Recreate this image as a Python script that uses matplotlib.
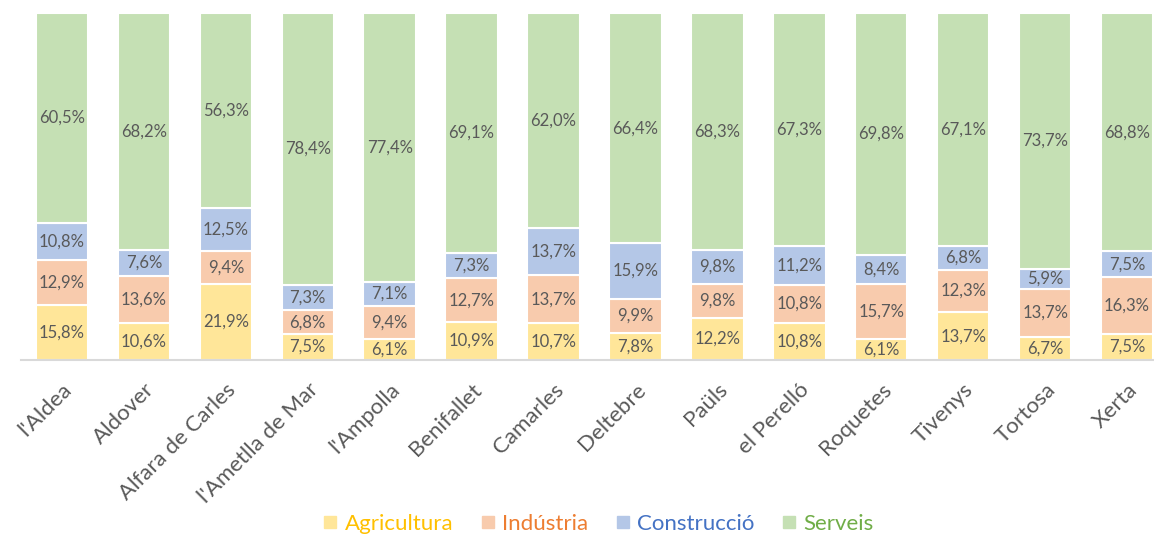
import numpy as np
import matplotlib.pyplot as plt
from matplotlib.lines import Line2D

towns = ["l'Aldea", "Aldover", "Alfara de Carles", "l'Ametlla de Mar", "l'Ampolla",
         "Benifallet", "Camarles", "Deltebre", "Paüls", "el Perelló", "Roquetes",
         "Tivenys", "Tortosa", "Xerta"]
agricultura = [15.8, 10.6, 21.9, 7.5, 6.1, 10.9, 10.7, 7.8, 12.2, 10.8, 6.1, 13.7, 6.7, 7.5]
industria = [12.9, 13.6, 9.4, 6.8, 9.4, 12.7, 13.7, 9.9, 9.8, 10.8, 15.7, 12.3, 13.7, 16.3]
construccio = [10.8, 7.6, 12.5, 7.3, 7.1, 7.3, 13.7, 15.9, 9.8, 11.2, 8.4, 6.8, 5.9, 7.5]
serveis = [60.5, 68.2, 56.3, 78.4, 77.4, 69.1, 62.0, 66.4, 68.3, 67.3, 69.8, 67.1, 73.7, 68.8]

series = [("Agricultura", agricultura, "#FFE699", "#FFC000"),
          ("Indústria", industria, "#F8CBAD", "#ED7D31"),
          ("Construcció", construccio, "#B4C7E7", "#4472C4"),
          ("Serveis", serveis, "#C5E0B4", "#70AD47")]

plt.rcParams['font.family'] = ['Lato', 'DejaVu Sans']

fig = plt.figure(figsize=(11.54, 5.39), dpi=100)
ax = fig.add_axes([21 / 1154, 179 / 539, 1147 / 1154, 347 / 539])

x = np.arange(len(towns))
totals = np.sum([agricultura, industria, construccio, serveis], axis=0)
bottom = np.zeros(len(towns))
for name, vals, col, _ in series:
    v = np.array(vals) / totals * 100
    ax.bar(x, v, 0.64, bottom=bottom, color=col, edgecolor='white', linewidth=1.5)
    for xi, b, h, raw in zip(x, bottom, v, vals):
        ax.text(xi, b + h / 2, f"{raw:.1f}%".replace('.', ','), ha='center', va='center',
                fontsize=12, color='#595959')
    bottom += v

ax.set_xlim(-0.5, len(towns) - 0.5)
ax.set_ylim(0, 100)
ax.set_yticks([])
ax.set_xticks(x)
ax.set_xticklabels(towns, rotation=45, ha='right', rotation_mode='anchor',
                   fontsize=16, color='#595959')
ax.tick_params(axis='x', length=0, pad=14)
for s in ['top', 'right', 'left']:
    ax.spines[s].set_visible(False)
ax.spines['bottom'].set_color('#D9D9D9')
ax.spines['bottom'].set_linewidth(1.5)

handles = [Line2D([], [], marker='s', linestyle='', markersize=9, color=c) for _, _, c, _ in series]
leg = fig.legend(handles, [s[0] for s in series], loc='center', bbox_to_anchor=(597 / 1154, 1 - 524 / 539),
                 ncol=4, frameon=False, fontsize=16, handletextpad=0.2, columnspacing=1.1,
                 handlelength=0.9)
for t, s in zip(leg.get_texts(), series):
    t.set_color(s[3])

fig.savefig('out.png', dpi=100)
